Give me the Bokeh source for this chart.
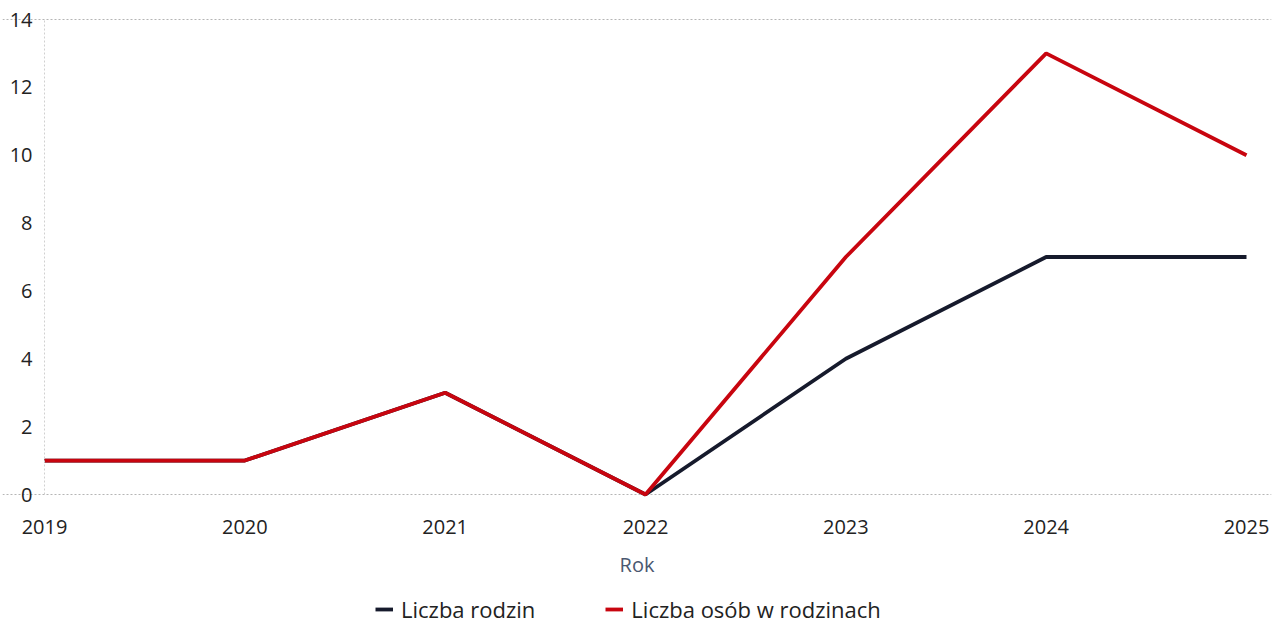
from bokeh.plotting import figure
from bokeh.models import Legend, LegendItem, FixedTicker, Range1d
from bokeh.embed import file_html
from bokeh.resources import INLINE

years = [2019, 2020, 2021, 2022, 2023, 2024, 2025]
liczba_rodzin = [1, 1, 3, 0, 4, 7, 7]
liczba_osob = [1, 1, 3, 0, 7, 13, 10]
y_ticks = [0, 2, 4, 6, 8, 10, 12, 14]

FONT = "Open Sans"

# Layout (page pixels): the 2019..2025 x 0..14 plot area spans x 44..1246, y 19..494.
# The frame covers nearly the whole page so that axes, labels and legend drawn
# inside it are never clipped.
W, H = 1273, 625
FL, FR, FT, FB = 2, 1271, 2, 625
PX_X = (1246 - 44) / (years[-1] - years[0])
PX_Y = (494 - 19) / (y_ticks[-1] - y_ticks[0])
x_start = years[0] - (44 - FL) / PX_X
x_end = years[-1] + (FR - 1246) / PX_X
y_end = y_ticks[-1] + (19 - FT) / PX_Y
y_start = y_ticks[0] - (FB - 494) / PX_Y

p = figure(
    frame_width=FR - FL, frame_height=FB - FT,
    x_range=Range1d(x_start, x_end), y_range=Range1d(y_start, y_end),
    output_backend="svg", toolbar_location=None,
    min_border_left=FL, min_border_right=W - FR, min_border_top=FT, min_border_bottom=H - FB,
)
p.outline_line_color = None
p.background_fill_color = "white"
p.border_fill_color = "white"

r1 = p.line(years, liczba_rodzin, line_color="#161a2c", line_width=3.8)
r2 = p.line(years, liczba_osob, line_color="#c8050f", line_width=3.8)

# grid: dotted lines at 0 and 14 only, between 2019 and 2025
p.ygrid.ticker = FixedTicker(ticks=[0, 14])
p.ygrid.bounds = (years[0], years[-1])
p.ygrid.grid_line_color = "#b5b5b5"
p.ygrid.grid_line_dash = "2 2"
p.ygrid.grid_line_width = 1
p.xgrid.visible = False

# y axis fixed at x = 2019 (its line is the faint dotted left edge)
p.yaxis.fixed_location = years[0]
p.yaxis.ticker = FixedTicker(ticks=y_ticks)
p.yaxis.bounds = (y_ticks[0], y_ticks[-1])
p.yaxis.axis_line_color = "#d0d0d0"
p.yaxis.axis_line_dash = "2 2"
p.yaxis.major_tick_line_color = None
p.yaxis.minor_tick_line_color = None
p.yaxis.major_tick_out = 0
p.yaxis.major_tick_in = 0
p.yaxis.major_label_standoff = 12
p.yaxis.major_label_text_font = FONT
p.yaxis.major_label_text_font_size = "20px"
p.yaxis.major_label_text_color = "#222222"

# x axis fixed at y = 0
p.xaxis.fixed_location = 0
p.xaxis.ticker = FixedTicker(ticks=years)
p.xaxis.axis_line_color = None
p.xaxis.major_tick_line_color = None
p.xaxis.minor_tick_line_color = None
p.xaxis.major_tick_out = 0
p.xaxis.major_tick_in = 0
p.xaxis.major_label_standoff = 25
p.xaxis.major_label_text_font = FONT
p.xaxis.major_label_text_font_size = "20px"
p.xaxis.major_label_text_color = "#222222"
p.xaxis.axis_label = "Rok"
p.xaxis.axis_label_text_font = FONT
p.xaxis.axis_label_text_font_size = "20px"
p.xaxis.axis_label_text_font_style = "normal"
p.xaxis.axis_label_text_color = "#4a5870"
p.xaxis.axis_label_standoff = 14

legend = Legend(
    items=[LegendItem(label="Liczba rodzin", renderers=[r1]),
           LegendItem(label="Liczba osób w rodzinach", renderers=[r2])],
    orientation="horizontal", location=(375 - FL, 1),
    label_text_font=FONT, label_text_font_size="22px", label_text_color="#222222",
    glyph_width=18, glyph_height=22, spacing=70, padding=0, margin=0,
    border_line_color=None, background_fill_alpha=0,
    label_standoff=8,
)
p.add_layout(legend, "center")

open("out.html", "w").write(file_html(p, INLINE))
